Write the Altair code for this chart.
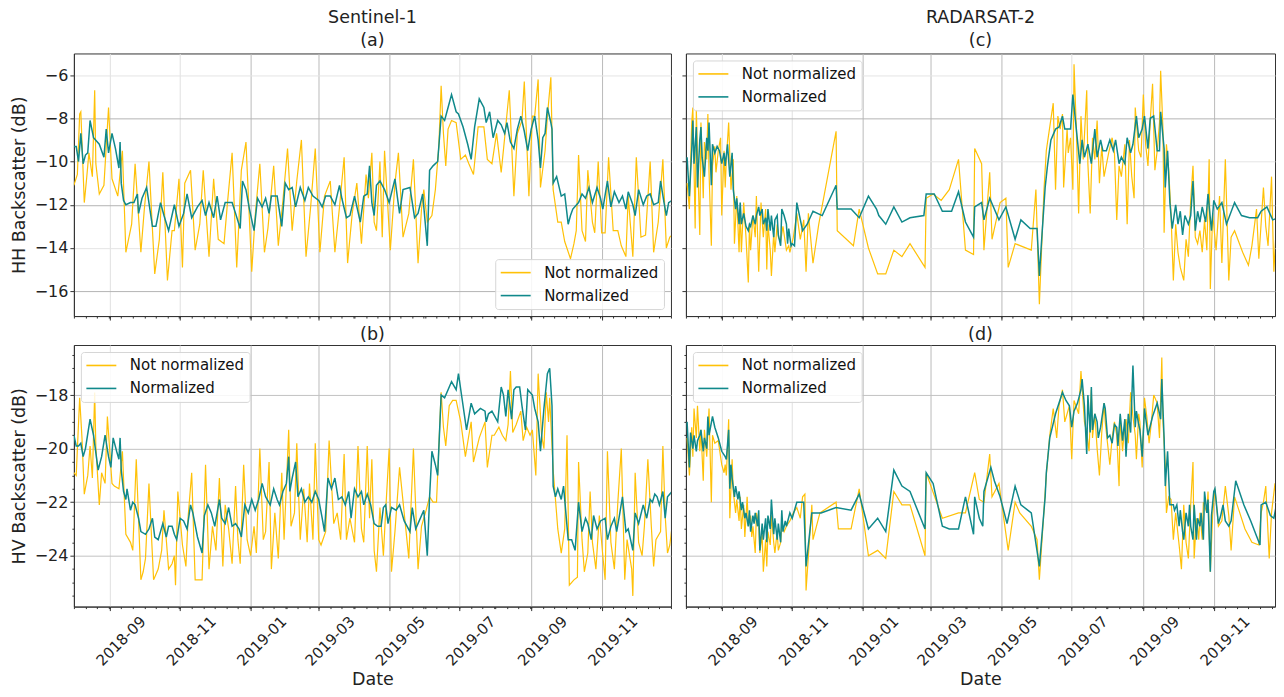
import altair as alt
import pandas as pd

FONT = "DejaVu Sans"
SERIES = ["Not normalized", "Normalized"]
COLORS = ["#FFC107", "#10898B"]
BASE_DATE = "2018-08-01"   # day offsets below are counted from this date

# ---------------- Sentinel-1, HH (panel a) : (day offset, dB) ----------------
S1_HH_RAW = [(0,-11.1),(3,-10.6),(5,-7.8),(6,-7.7),(9,-11.9),(11,-10.8),(13,-9.6),(16,-10.7),(18,-6.7),(19,-10.1),
(22,-11.5),(26,-11.1),(30,-7.5),(33,-10.8),(38,-11.6),(42,-9.5),(45,-14.2),(50,-12.9),(53,-10.1),(58,-14.2),(61,-12.2),
(65,-10.0),(70,-15.2),(74,-13.6),(77,-10.5),(81,-15.5),(85,-13.2),(87,-13.2),(91,-10.8),(94,-14.9),(96,-11.0),(101,-10.4),
(105,-14.1),(109,-12.9),(112,-10.4),(117,-14.4),(121,-10.8),(125,-13.6),(130,-13.8),(133,-11.9),(137,-9.6),(141,-14.9),
(145,-10.4),(149,-9.1),(154,-15.1),(157,-12.5),(161,-10.1),(165,-14.2),(168,-13.1),(173,-10.2),(177,-13.9),(181,-11.8),
(185,-9.4),(189,-13.2),(193,-10.9),(197,-9.0),(201,-14.4),(205,-12.1),(209,-9.4),(213,-14.2),(217,-11.6),(222,-10.9),
(226,-14.2),(230,-12.1),(234,-9.8),(237,-14.7),(241,-12.4),(245,-11.0),(249,-13.8),(253,-10.6),(255,-11.7),(258,-9.6),
(260,-12.8),(262,-13.2),(265,-10.0),(267,-13.5),(269,-9.5),(274,-14.1),(278,-11.0),(281,-9.6),(285,-13.5),(290,-12.4),
(294,-9.9),(298,-14.7),(301,-12.2),(303,-11.3),(306,-12.8),(310,-12.5),(313,-11.3),(316,-9.3),(318,-6.5),(320,-8.7),
(322,-10.2),(324,-8.5),(327,-8.1),(331,-8.2),(335,-9.9),(339,-9.7),(342,-10.1),(346,-10.6),(350,-8.4),(355,-8.4),
(358,-9.9),(362,-10.1),(366,-8.7),(370,-10.5),(373,-8.9),(377,-6.7),(381,-11.6),(384,-8.7),(388,-8.1),(390,-6.3),
(394,-11.6),(397,-7.9),(399,-7.9),(402,-6.2),(404,-11.2),(408,-9.5),(410,-7.9),(413,-6.1),(415,-11.3),(419,-12.8),
(422,-12.8),(425,-13.7),(430,-14.5),(433,-13.8),(435,-13.2),(437,-9.7),(440,-13.2),(443,-13.7),(445,-10.4),(449,-12.8),
(451,-13.3),(454,-10.0),(457,-13.3),(460,-13.3),(463,-9.8),(467,-13.2),(471,-13.2),(474,-13.9),(478,-14.4),(480,-11.6),
(484,-14.4),(487,-9.8),(491,-13.5),(495,-13.4),(499,-10.0),(502,-14.2),(506,-12.8),(510,-9.9),(513,-14.0),(516,-13.5),
(518,-13.4)]

S1_HH_NORM = [(0,-9.3),(2,-9.3),(4,-10.0),(6,-8.7),(8,-10.1),(10,-9.7),(12,-9.6),(14,-8.1),(17,-8.9),(22,-9.2),(26,-9.8),
(28,-8.5),(30,-9.6),(33,-8.7),(36,-9.4),(39,-10.3),(40,-9.1),(41,-11.0),(43,-11.8),(45,-12.0),(49,-11.9),(52,-11.9),
(55,-11.5),(56,-12.4),(59,-11.7),(63,-11.2),(68,-13.0),(71,-13.0),(75,-11.9),(78,-12.5),(82,-13.2),(87,-12.0),(91,-13.0),
(95,-12.4),(98,-11.5),(102,-12.6),(107,-12.1),(111,-11.8),(114,-12.5),(117,-11.9),(121,-12.6),(124,-11.6),(127,-12.7),
(131,-11.9),(135,-11.9),(137,-11.9),(140,-12.4),(144,-13.1),(146,-10.9),(149,-11.3),(152,-12.2),(156,-13.2),(159,-11.7),
(163,-12.1),(166,-11.7),(169,-12.4),(171,-11.6),(176,-11.6),(180,-13.0),(183,-11.0),(186,-11.3),(189,-11.2),(192,-12.1),
(196,-11.2),(200,-11.8),(203,-11.2),(207,-11.6),(212,-11.8),(215,-12.1),(218,-11.6),(222,-11.6),(226,-12.0),(230,-11.1),
(232,-11.7),(236,-12.6),(239,-12.5),(243,-11.6),(248,-12.8),(251,-11.6),(254,-11.5),(256,-10.2),(258,-11.9),(260,-12.5),
(262,-11.1),(265,-10.9),(269,-11.3),(273,-11.9),(278,-10.8),(282,-12.4),(285,-11.3),(291,-11.2),(295,-12.6),(298,-12.4),
(302,-11.5),(306,-13.9),(308,-10.4),(311,-10.2),(315,-10.0),(318,-7.9),(321,-8.1),(324,-7.5),(327,-6.9),(331,-7.7),
(333,-7.8),(337,-8.4),(341,-9.2),(344,-9.9),(347,-8.4),(351,-7.1),(355,-7.5),(357,-8.2),(360,-7.7),(363,-8.9),(367,-8.1),
(370,-8.3),(373,-8.7),(375,-8.2),(378,-9.1),(381,-9.4),(384,-8.5),(387,-7.9),(390,-8.6),(393,-9.5),(396,-8.5),(399,-7.9),
(402,-9.0),(404,-10.3),(406,-8.9),(408,-8.7),(410,-7.5),(413,-8.2),(414,-8.5),(415,-11.0),(418,-10.7),(422,-11.6),
(425,-11.5),(428,-12.9),(430,-12.5),(432,-12.2),(437,-11.9),(440,-11.5),(443,-11.7),(446,-11.2),(449,-11.9),(453,-11.2),
(456,-11.7),(458,-12.2),(462,-10.9),(465,-12.1),(468,-11.4),(472,-11.9),(475,-11.6),(478,-12.2),(480,-11.4),(484,-12.0),
(486,-12.5),(489,-11.3),(493,-12.0),(496,-11.6),(499,-11.5),(502,-12.0),(506,-11.9),(508,-10.9),(511,-11.9),(513,-12.5),
(515,-11.9),(518,-11.8)]

# ---------------- Sentinel-1, HV (panel b) ----------------
S1_HV_RAW = [(0,-20.9),(2,-21.0),(5,-18.1),(7,-19.6),(9,-21.7),(12,-21.0),(14,-19.9),(16,-21.1),(18,-17.9),(19,-19.9),
(22,-22.1),(24,-20.9),(27,-21.3),(29,-18.8),(33,-21.3),(35,-21.4),(39,-21.5),(42,-20.1),(45,-23.2),(49,-23.5),(51,-23.8),
(54,-20.4),(58,-24.9),(60,-24.6),(62,-24.1),(65,-21.3),(69,-24.9),(71,-24.7),(73,-24.5),(76,-23.8),(78,-22.3),(82,-24.5),
(85,-24.3),(87,-24.0),(88,-25.1),(90,-21.6),(94,-23.6),(97,-24.4),(99,-22.5),(102,-20.9),(105,-24.9),(109,-24.9),
(111,-24.9),(114,-20.6),(117,-24.5),(120,-22.9),(123,-23.8),(126,-21.1),(129,-24.4),(131,-22.1),(134,-23.0),(137,-24.3),
(140,-21.4),(142,-23.4),(144,-24.3),(147,-20.6),(150,-23.4),(153,-24.0),(156,-22.9),(158,-23.9),(161,-20.0),(164,-23.4),
(166,-23.1),(169,-20.5),(171,-24.5),(174,-22.4),(177,-24.1),(180,-20.9),(182,-23.4),(186,-19.3),(188,-22.9),(191,-22.4),
(193,-19.8),(196,-23.4),(199,-21.5),(202,-23.5),(204,-21.3),(207,-23.4),(209,-19.8),(212,-23.4),(214,-23.6),(218,-23.1),
(221,-19.7),(225,-22.8),(228,-22.4),(231,-23.4),(234,-20.2),(236,-23.4),(239,-22.6),(243,-23.5),(246,-19.9),(249,-23.0),
(251,-23.5),(254,-19.9),(256,-22.6),(258,-20.4),(260,-23.8),(262,-24.6),(265,-22.2),(268,-24.0),(270,-22.3),(273,-20.0),
(275,-24.6),(278,-23.1),(282,-20.7),(286,-22.4),(290,-24.1),(294,-20.0),(298,-24.5),(301,-22.9),(305,-22.3),(308,-21.8),
(311,-22.0),(314,-22.0),(318,-17.9),(320,-19.2),(322,-19.9),(325,-18.4),(328,-18.2),(331,-18.2),(335,-19.0),(339,-20.3),
(342,-19.5),(344,-19.0),(346,-20.5),(351,-19.6),(356,-19.0),(358,-20.7),(362,-19.5),(364,-19.5),(368,-19.2),(371,-19.5),
(374,-19.7),(376,-19.1),(378,-17.1),(380,-19.4),(383,-19.1),(387,-18.6),(389,-19.7),(392,-19.2),(395,-19.5),(397,-19.3),
(400,-21.0),(402,-17.2),(405,-19.5),(407,-20.0),(409,-17.9),(411,-19.0),(412,-18.1),(415,-20.8),(417,-21.9),(419,-23.0),
(422,-23.9),(425,-23.0),(427,-19.5),(429,-25.1),(433,-24.9),(436,-24.8),(437,-20.5),(440,-23.4),(442,-24.6),(445,-23.9),
(447,-21.6),(449,-23.5),(452,-24.5),(455,-22.5),(458,-24.0),(460,-24.9),(462,-20.1),(465,-23.5),(468,-24.5),(471,-22.0),
(474,-20.0),(477,-24.9),(479,-23.4),(483,-24.5),(484,-25.5),(486,-20.9),(489,-23.5),(492,-24.0),(494,-22.9),(497,-20.4),
(500,-22.9),(502,-24.4),(504,-23.4),(508,-23.1),(510,-19.9),(512,-22.5),(514,-23.9),(516,-23.6),(518,-22.9)]

S1_HV_NORM = [(0,-19.5),(2,-19.9),(4,-19.9),(6,-19.8),(8,-20.3),(10,-20.0),(14,-18.9),(17,-19.5),(21,-20.8),(24,-20.3),
(27,-19.5),(30,-20.3),(32,-20.7),(34,-19.6),(37,-20.1),(39,-20.4),(40,-19.6),(41,-20.8),(43,-21.6),(45,-21.9),(46,-21.5),
(49,-22.3),(51,-22.0),(53,-22.1),(56,-22.6),(58,-23.1),(62,-23.2),(65,-23.0),(68,-22.6),(70,-23.3),(73,-23.4),(77,-22.8),
(80,-23.3),(82,-22.9),(85,-22.9),(87,-23.2),(89,-23.4),(92,-22.6),(95,-22.7),(98,-23.0),(101,-22.1),(103,-22.4),
(107,-23.3),(111,-23.9),(113,-22.5),(116,-22.1),(119,-22.4),(122,-22.9),(126,-21.9),(128,-22.6),(131,-22.8),(134,-22.2),
(137,-22.9),(140,-22.8),(143,-23.0),(145,-23.3),(148,-22.1),(151,-22.4),(154,-21.9),(157,-22.3),(160,-21.9),(163,-21.3),
(166,-21.8),(170,-22.1),(173,-21.5),(176,-21.9),(178,-22.1),(181,-21.6),(184,-21.3),(186,-20.3),(187,-21.6),(189,-21.1),
(192,-20.5),(194,-21.8),(197,-21.5),(200,-22.0),(203,-21.8),(206,-22.0),(209,-21.6),(212,-21.9),(215,-22.6),(217,-23.1),
(220,-21.1),(223,-21.5),(226,-21.1),(229,-21.9),(232,-21.8),(235,-22.1),(238,-21.6),(240,-22.6),(243,-21.5),(246,-21.8),
(249,-21.6),(251,-22.1),(254,-21.7),(257,-22.1),(260,-22.8),(263,-22.9),(266,-22.9),(268,-22.2),(270,-22.1),(272,-22.8),
(275,-22.2),(279,-22.3),(282,-22.1),(286,-22.7),(291,-23.1),(293,-22.2),(296,-23.0),(299,-22.7),(303,-22.3),(306,-24.0),
(308,-21.8),(310,-20.1),(313,-20.6),(315,-21.0),(318,-18.0),(321,-18.1),(324,-17.8),(327,-17.5),(331,-17.8),(333,-17.2),
(336,-18.1),(340,-19.3),(344,-18.3),(347,-18.7),(352,-18.5),(356,-18.6),(357,-19.0),(359,-18.7),(362,-18.6),(367,-19.0),
(370,-17.7),(372,-18.0),(374,-18.8),(376,-17.8),(379,-18.9),(381,-17.8),(383,-17.7),(386,-17.7),(388,-18.4),(391,-19.3),
(393,-17.8),(397,-18.0),(399,-18.5),(402,-19.0),(404,-20.1),(407,-18.5),(410,-17.2),(412,-17.0),(414,-18.4),(415,-21.4),
(417,-21.8),(419,-21.5),(422,-21.9),(424,-21.4),(428,-23.4),(431,-23.4),(434,-23.8),(437,-22.0),(440,-23.1),(443,-22.6),
(445,-22.8),(448,-23.4),(450,-22.5),(453,-23.0),(456,-22.7),(460,-22.6),(462,-23.4),(465,-22.9),(468,-22.6),(470,-23.1),
(472,-22.6),(475,-21.8),(478,-23.1),(480,-23.0),(484,-23.8),(486,-22.4),(489,-22.8),(493,-22.1),(496,-22.6),(499,-21.9),
(501,-22.0),(503,-21.7),(505,-21.8),(507,-22.1),(510,-21.6),(512,-22.6),(514,-21.8),(518,-21.6)]

# ---------------- RADARSAT-2, HH (panel c) ----------------
RS2_HH_RAW = [(1,-11.0),(3,-12.2),(5,-8.2),(6,-7.5),(8,-13.1),(9,-7.6),(10,-9.6),(12,-13.4),(13,-8.2),(15,-11.7),(16,-9.1),
(18,-9.9),(19,-7.8),(20,-10.5),(22,-13.9),(23,-10.2),(25,-9.3),(26,-10.5),(28,-9.5),(30,-8.9),(31,-12.5),(33,-9.5),
(34,-11.2),(35,-9.9),(37,-8.2),(39,-11.3),(41,-9.9),(42,-13.8),(44,-11.6),(46,-14.2),(47,-12.2),(48,-14.2),(50,-11.9),
(52,-13.5),(54,-15.6),(55,-12.9),(56,-14.1),(58,-12.5),(60,-13.5),(61,-11.6),(63,-15.1),(65,-11.9),(67,-13.5),(69,-12.2),
(70,-15.0),(71,-12.9),(73,-14.1),(74,-15.3),(76,-13.3),(77,-14.2),(79,-12.9),(80,-13.5),(82,-13.7),(84,-13.0),(87,-14.1),
(89,-13.9),(90,-14.2),(93,-13.5),(96,-12.4),(99,-13.6),(102,-12.7),(104,-15.1),(106,-12.4),(110,-14.7),(115,-12.9),
(130,-8.6),(131,-13.2),(145,-13.9),(150,-12.2),(158,-14.0),(166,-15.2),(173,-15.2),(180,-14.1),(187,-14.4),(194,-13.8),
(207,-14.9),(208,-11.7),(214,-11.5),(221,-11.8),(228,-11.3),(236,-9.9),(242,-14.1),(249,-14.3),(250,-9.4),(256,-10.1),
(258,-14.1),(263,-10.5),(265,-13.6),(272,-11.9),(277,-11.7),(279,-14.9),(285,-13.8),(299,-14.1),(303,-11.3),(306,-16.6),
(310,-11.3),(312,-9.5),(315,-8.4),(318,-7.3),(320,-11.3),(322,-7.9),(324,-8.5),(326,-7.8),(327,-11.2),(330,-8.5),
(331,-9.6),(333,-8.9),(335,-11.3),(336,-5.5),(338,-8.5),(340,-12.4),(342,-7.9),(344,-9.9),(347,-6.7),(348,-10.1),
(350,-12.4),(352,-8.9),(354,-9.9),(356,-8.1),(358,-11.0),(360,-9.3),(362,-10.7),(366,-9.6),(369,-8.9),(371,-9.6),
(373,-12.7),(375,-10.2),(377,-10.7),(380,-9.2),(382,-12.9),(384,-9.0),(386,-10.7),(388,-11.7),(389,-7.5),(392,-9.5),
(394,-9.8),(396,-6.9),(398,-9.2),(400,-10.2),(402,-8.1),(404,-6.4),(406,-10.4),(408,-9.5),(410,-8.2),(411,-5.8),
(413,-8.5),(414,-13.3),(416,-9.2),(418,-10.4),(420,-12.5),(422,-15.5),(424,-12.9),(426,-14.2),(428,-14.9),(431,-15.5),
(433,-13.6),(435,-14.4),(437,-11.8),(439,-10.2),(441,-13.5),(443,-13.8),(445,-13.2),(447,-14.2),(449,-12.7),(451,-14.1),
(453,-9.9),(454,-15.9),(456,-12.4),(459,-14.1),(462,-11.6),(464,-14.7),(467,-9.9),(470,-15.5),(472,-13.5),(475,-13.2),
(482,-14.2),(487,-14.8),(490,-13.9),(494,-12.2),(496,-14.5),(500,-11.2),(502,-13.0),(504,-13.9),(507,-10.7),(509,-15.1),
(512,-12.1),(514,-10.2),(516,-15.0),(518,-13.5)]

RS2_HH_NORM = [(1,-9.8),(3,-11.6),(5,-9.5),(6,-8.1),(7,-10.1),(9,-8.4),(10,-11.2),(12,-9.0),(13,-8.4),(14,-9.8),(16,-10.7),
(18,-8.9),(19,-9.5),(20,-8.2),(22,-11.1),(23,-9.2),(25,-9.6),(27,-9.3),(29,-9.5),(31,-10.1),(33,-9.6),(34,-10.2),
(36,-9.2),(38,-10.7),(40,-9.6),(41,-11.3),(43,-12.2),(44,-11.7),(46,-12.9),(47,-11.9),(48,-12.9),(50,-12.4),(52,-13.0),
(54,-13.2),(55,-12.9),(56,-13.0),(58,-12.5),(60,-12.9),(61,-12.5),(63,-12.1),(64,-12.5),(66,-12.2),(67,-12.9),(69,-12.6),
(70,-13.2),(71,-12.2),(73,-13.2),(74,-12.5),(76,-13.5),(77,-12.7),(79,-12.5),(80,-13.4),(82,-13.9),(83,-12.2),(85,-12.5),
(87,-12.9),(88,-13.8),(89,-13.1),(91,-13.9),(92,-13.8),(94,-13.9),(96,-11.9),(101,-13.2),(105,-12.9),(110,-12.3),
(118,-12.5),(130,-11.1),(131,-12.2),(143,-12.2),(150,-12.6),(158,-11.6),(165,-12.2),(167,-12.5),(173,-12.9),(180,-12.1),
(187,-12.8),(194,-12.6),(206,-12.5),(208,-11.5),(215,-11.5),(222,-12.3),(230,-12.3),(236,-11.4),(242,-12.8),(249,-13.5),
(250,-12.1),(256,-11.9),(258,-12.7),(263,-11.7),(271,-12.7),(277,-12.1),(285,-13.6),(290,-12.7),(298,-13.1),(304,-13.1),
(306,-15.3),(308,-13.6),(311,-11.2),(313,-10.2),(316,-9.0),(320,-8.5),(323,-8.4),(326,-7.9),(328,-8.5),(333,-8.5),
(335,-6.9),(338,-8.5),(341,-10.1),(343,-9.0),(345,-9.8),(348,-9.2),(351,-10.1),(354,-8.5),(356,-9.8),(359,-9.0),
(361,-9.5),(364,-9.5),(367,-9.0),(370,-9.5),(372,-9.0),(375,-10.1),(377,-9.8),(380,-10.1),(382,-8.9),(385,-9.6),
(387,-9.2),(390,-7.9),(392,-8.9),(395,-8.5),(397,-7.9),(400,-9.4),(402,-8.0),(405,-7.9),(408,-9.5),(410,-9.5),(411,-7.7),
(414,-9.4),(415,-11.2),(417,-9.5),(419,-11.9),(421,-13.1),(424,-12.0),(426,-12.9),(428,-12.3),(430,-13.4),(432,-12.5),
(435,-12.9),(437,-12.5),(439,-10.9),(441,-13.2),(443,-12.3),(445,-12.8),(447,-12.1),(450,-12.8),(452,-11.5),(455,-13.2),
(457,-11.8),(460,-12.2),(464,-11.9),(468,-12.9),(475,-11.9),(481,-12.5),(488,-12.6),(495,-12.6),(498,-12.3),(503,-12.1),
(508,-12.7),(513,-12.6),(516,-13.0)]

# ---------------- RADARSAT-2, HV (panel d) ----------------
RS2_HV_RAW = [(1,-19.6),(3,-21.0),(5,-19.2),(6,-20.3),(7,-18.5),(9,-19.6),(10,-18.4),(12,-20.1),(13,-19.3),(15,-21.2),
(16,-19.3),(18,-20.3),(20,-18.5),(22,-22.0),(23,-19.5),(25,-19.8),(28,-19.7),(31,-20.6),(33,-20.9),(34,-20.6),(35,-21.0),
(37,-18.9),(38,-22.6),(40,-20.4),(41,-21.6),(43,-22.4),(44,-21.9),(46,-22.7),(47,-21.8),(48,-23.0),(50,-22.1),(51,-23.3),
(53,-21.8),(54,-22.9),(56,-22.5),(57,-23.3),(58,-22.9),(60,-23.9),(61,-22.4),(63,-22.8),(64,-23.9),(66,-23.2),(67,-24.6),
(69,-23.4),(70,-24.4),(71,-23.1),(73,-23.6),(74,-22.5),(76,-23.5),(77,-23.9),(79,-23.1),(80,-23.8),(82,-23.5),(83,-22.8),
(85,-23.1),(87,-22.9),(90,-22.7),(93,-22.4),(96,-22.2),(99,-22.6),(101,-21.8),(103,-21.7),(104,-25.3),(109,-22.1),
(110,-23.4),(116,-22.4),(130,-22.0),(132,-23.0),(143,-23.0),(150,-21.5),(158,-24.0),(166,-23.8),(173,-24.1),(180,-21.6),
(187,-22.1),(194,-22.1),(207,-24.0),(208,-20.9),(222,-22.6),(236,-22.4),(242,-22.4),(250,-20.9),(254,-21.9),(258,-22.0),
(263,-20.2),(265,-21.8),(271,-21.3),(279,-23.8),(285,-22.0),(289,-22.4),(299,-22.9),(304,-23.4),(306,-24.9),(312,-21.0),
(315,-19.5),(318,-18.5),(321,-19.6),(323,-18.4),(326,-17.8),(328,-19.0),(332,-18.4),(334,-20.4),(336,-18.2),(340,-18.7),
(342,-17.1),(345,-19.0),(347,-19.4),(349,-20.1),(351,-17.8),(352,-19.6),(354,-18.7),(356,-20.0),(358,-21.0),(360,-19.4),
(362,-18.3),(363,-19.0),(365,-19.8),(367,-20.6),(369,-19.6),(371,-19.0),(373,-19.5),(375,-21.4),(376,-18.8),(378,-20.1),
(379,-19.6),(381,-18.9),(383,-19.8),(385,-17.9),(387,-18.8),(389,-19.5),(390,-20.4),(392,-18.7),(393,-19.0),(395,-20.7),
(397,-18.1),(399,-18.8),(401,-19.8),(403,-19.0),(405,-18.0),(408,-18.3),(410,-19.6),(412,-16.6),(413,-19.0),(415,-20.6),
(416,-22.4),(418,-21.8),(420,-21.9),(422,-23.4),(424,-22.4),(427,-23.6),(429,-24.5),(431,-22.1),(433,-23.5),(435,-24.1),
(437,-22.1),(439,-20.5),(440,-24.1),(442,-22.6),(444,-23.4),(445,-22.4),(447,-23.4),(448,-22.0),(451,-22.4),(452,-21.6),
(454,-24.6),(456,-22.5),(458,-21.5),(461,-22.9),(464,-22.7),(467,-21.4),(470,-22.5),(472,-23.8),(475,-21.8),(484,-23.0),
(490,-23.5),(496,-23.6),(498,-22.4),(500,-22.0),(502,-21.4),(505,-24.1),(507,-22.4),(510,-21.3),(512,-22.5),(514,-21.8),
(517,-21.0),(518,-22.3)]

RS2_HV_NORM = [(1,-19.0),(3,-20.7),(4,-19.4),(6,-20.0),(7,-19.5),(9,-20.1),(10,-19.7),(12,-19.5),(13,-19.3),(15,-20.1),
(16,-19.6),(18,-20.0),(19,-18.8),(20,-19.5),(23,-18.8),(25,-19.2),(28,-19.6),(31,-20.1),(34,-20.3),(35,-20.4),(37,-19.3),
(38,-21.5),(39,-20.6),(40,-21.1),(42,-21.8),(43,-21.4),(45,-21.9),(46,-21.6),(48,-22.3),(49,-22.0),(51,-22.6),(52,-22.4),
(54,-22.9),(55,-22.3),(56,-23.1),(58,-22.5),(59,-22.8),(60,-22.4),(62,-22.9),(63,-22.3),(64,-23.8),(66,-22.8),(67,-23.4),
(69,-22.6),(70,-23.5),(71,-22.5),(73,-23.0),(74,-21.9),(76,-23.2),(77,-22.6),(79,-23.4),(80,-22.8),(82,-23.5),(83,-22.3),
(84,-23.1),(86,-22.7),(87,-22.9),(90,-22.4),(92,-22.6),(94,-22.3),(96,-22.0),(102,-22.0),(104,-24.4),(109,-22.4),
(117,-22.4),(130,-22.2),(143,-22.3),(150,-21.7),(158,-23.0),(166,-22.6),(173,-23.1),(180,-20.8),(187,-21.4),(194,-21.6),
(207,-23.0),(208,-20.9),(214,-21.3),(222,-22.9),(228,-23.0),(236,-23.0),(242,-21.8),(249,-23.2),(250,-21.8),(254,-22.6),
(257,-22.9),(258,-21.6),(264,-20.7),(267,-21.2),(272,-21.8),(278,-22.8),(285,-21.4),(290,-22.1),(299,-22.4),(306,-24.4),
(311,-21.8),(312,-20.9),(315,-19.6),(320,-18.7),(326,-17.9),(329,-18.2),(332,-18.4),(334,-19.2),(336,-18.6),(339,-18.3),
(342,-17.8),(343,-17.4),(345,-18.4),(347,-20.2),(348,-18.0),(350,-19.4),(351,-17.7),(352,-19.3),(354,-18.7),(356,-19.0),
(357,-19.6),(359,-19.2),(362,-18.3),(363,-18.5),(365,-19.6),(367,-19.5),(369,-19.8),(371,-19.1),(373,-19.2),(374,-19.9),
(376,-18.7),(378,-19.7),(380,-18.9),(381,-20.3),(383,-18.7),(385,-19.4),(387,-16.9),(389,-19.2),(390,-18.6),(392,-19.1),
(393,-19.3),(395,-20.3),(397,-18.5),(400,-19.5),(404,-18.8),(408,-18.3),(411,-18.9),(412,-17.4),(414,-19.6),(415,-21.4),
(417,-20.1),(419,-22.1),(422,-22.1),(423,-22.3),(425,-22.1),(427,-22.9),(428,-22.3),(430,-23.1),(431,-23.4),(433,-22.4),
(435,-22.9),(436,-22.1),(437,-22.9),(439,-23.4),(440,-22.1),(442,-23.4),(443,-22.6),(445,-22.9),(446,-22.4),(448,-23.4),
(449,-21.6),(451,-22.4),(452,-21.9),(454,-24.6),(455,-22.5),(457,-21.6),(458,-21.5),(461,-22.8),(463,-22.5),(465,-22.1),
(467,-22.7),(470,-22.9),(472,-22.7),(476,-21.2),(483,-22.1),(489,-22.7),(497,-23.6),(498,-22.1),(502,-22.0),(506,-22.5),
(509,-22.6),(513,-21.7),(517,-22.1),(518,-21.9)]

HH_DOMAIN = [-17.15, -5.0]
HV_DOMAIN = [-25.9, -16.13]
HH_TICKS = [-16, -14, -12, -10, -8, -6]
HV_TICKS = [-24, -22, -20, -18]
HV_MINOR = [-25.5, -25, -24.5, -23.5, -23, -22.5, -21.5, -21, -20.5, -19.5, -19, -18.5, -17.5, -17, -16.5]

X_START = alt.DateTime(year=2018, month=8, date=1)
X_END_LEFT = alt.DateTime(year=2019, month=12, date=31)
X_END_RIGHT = alt.DateTime(year=2019, month=12, date=24)   # right column is cut by the page edge

INK = "#222222"
SPINE = "#333333"


def to_frame(pairs, name):
    base = pd.Timestamp(BASE_DATE)
    return pd.DataFrame({
        "date": [base + pd.Timedelta(days=d) for d, _ in pairs],
        "value": [v for _, v in pairs],
        "series": name,
    })


def panel(raw, norm, ydom, yticks, yminor, ytitle, title, bottom, left, legend_orient, ygrid,
          width, height, x_end, title_offset):
    xkw = dict(format="%Y-%m", tickCount={"interval": "month", "step": 2}, grid=True,
               gridColor={"condition": {"test": "year(datum.value) == 2018 || month(datum.value) == 6",
                                        "value": "#e0e0e0"}, "value": "#bababa"},
               gridWidth=1, tickSize=4, tickColor=SPINE, domainColor=SPINE,
               labelFont=FONT, labelFontSize=15, labelColor=INK, orient="bottom")
    if bottom:
        xkw.update(labelAngle=-45, labelAlign="right", labelBaseline="top", labelOffset=28,
                   labelPadding=3, title="Date", titleFont=FONT, titleFontSize=17.5,
                   titleFontWeight="normal", titleColor=INK, titlePadding=2)
    else:
        xkw.update(labels=False, title=None)

    minor_x = dict(tickCount={"interval": "day", "step": 10}, grid=False, labels=False, domain=False,
                   tickSize=2, tickColor=SPINE, title=None, orient="bottom")

    ykw = dict(values=yticks, grid=True, gridColor=ygrid, gridWidth=1, tickSize=4,
               tickColor=SPINE, domainColor=SPINE, labelFont=FONT, labelFontSize=16,
               labelColor=INK, labelPadding=2, orient="left")
    if left:
        ykw.update(title=ytitle, titleFont=FONT, titleFontSize=17.5, titleFontWeight="normal",
                   titleColor=INK, titlePadding=6)
    else:
        ykw.update(labels=False, title=None)

    if yminor:
        ykw2 = dict(values=yminor, grid=False, labels=False, domain=False, tickSize=2,
                    tickColor=SPINE, title=None, orient="left")
    else:
        ykw2 = ykw

    # a flat custom path gives a 30 px line handle while keeping legend rows compact
    legend = alt.Legend(title=None, orient=legend_orient, offset=7, padding=5,
                        fillColor="rgba(255,255,255,0.85)", strokeColor="#d6d6d6", cornerRadius=3,
                        labelFont=FONT, labelFontSize=15, labelColor="#111111", labelOffset=20,
                        symbolType="M-2,0L2,0", symbolSize=225, symbolOffset=7,
                        symbolStrokeWidth=1.6, rowPadding=6)

    xscale = alt.Scale(domain=[X_START, x_end], nice=False)
    yscale = alt.Scale(domain=ydom, nice=False, zero=False)
    color = alt.Color("series:N", scale=alt.Scale(domain=SERIES, range=COLORS), legend=legend)

    l1 = alt.Chart(to_frame(raw, SERIES[0])).mark_line(strokeWidth=1.2, clip=True).encode(
        x=alt.X("date:T", axis=alt.Axis(**xkw), scale=xscale),
        y=alt.Y("value:Q", axis=alt.Axis(**ykw), scale=yscale),
        color=color)
    l2 = alt.Chart(to_frame(norm, SERIES[1])).mark_line(strokeWidth=1.5, clip=True).encode(
        x=alt.X("date:T", axis=alt.Axis(**minor_x), scale=xscale),
        y=alt.Y("value:Q", axis=alt.Axis(**ykw2), scale=yscale),
        color=color)
    lay = alt.layer(l1, l2)
    if yminor:
        lay = lay.resolve_axis(x="independent", y="independent")
    else:
        lay = lay.resolve_axis(x="independent")
    return lay.properties(
        width=width, height=height,
        title=alt.TitleParams(text=title, font=FONT, fontSize=17.5, fontWeight="normal",
                              color=INK, anchor="middle", offset=title_offset, lineHeight=23))


hh_grid = {"condition": {"test": "datum.value % 4 == 0", "value": "#b4b4b4"}, "value": "#e4e4e4"}
hv_grid = "#c2c2c2"

pa = panel(S1_HH_RAW, S1_HH_NORM, HH_DOMAIN, HH_TICKS, None, "HH Backscatter (dB)", ["Sentinel-1", "(a)"],
           False, True, "bottom-right", hh_grid, 598, 263, X_END_LEFT, 4)
pc = panel(RS2_HH_RAW, RS2_HH_NORM, HH_DOMAIN, HH_TICKS, None, "", ["RADARSAT-2", "(c)"],
           False, False, "top-left", hh_grid, 590, 263, X_END_RIGHT, 4)
pb = panel(S1_HV_RAW, S1_HV_NORM, HV_DOMAIN, HV_TICKS, HV_MINOR, "HV Backscatter (dB)", "(b)",
           True, True, "top-left", hv_grid, 598, 262, X_END_LEFT, 2)
pd_ = panel(RS2_HV_RAW, RS2_HV_NORM, HV_DOMAIN, HV_TICKS, HV_MINOR, "", "(d)",
            True, False, "top-left", hv_grid, 590, 262, X_END_RIGHT, 2)

chart = alt.concat(pa, pc, pb, pd_, columns=2, spacing={"row": 4, "column": 9}).resolve_scale(
    color="independent").resolve_legend(color="independent").properties(
    padding={"left": 1, "top": 0, "right": 0, "bottom": 0}
).configure(font=FONT).configure_view(stroke=SPINE, strokeWidth=1)

chart.save("out.html", embed_options={"renderer": "svg", "actions": False})
